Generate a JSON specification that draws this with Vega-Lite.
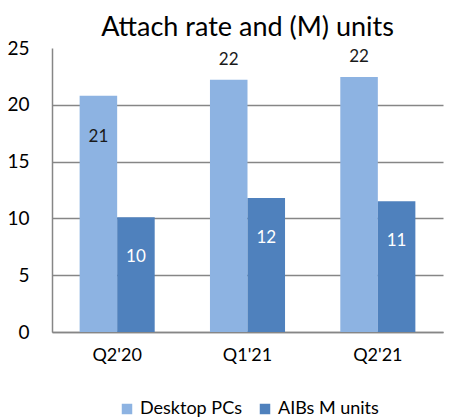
{
  "$schema": "https://vega.github.io/schema/vega-lite/v6.json",
  "width": 391,
  "height": 284,
  "autosize": {"type": "none"},
  "padding": {"left": 52, "top": 48, "right": 7, "bottom": 88},
  "background": "white",
  "title": {
    "text": "Attach rate and (M) units",
    "font": "Lato",
    "fontSize": 27,
    "fontWeight": "normal",
    "color": "#000000",
    "anchor": "middle",
    "offset": -3
  },
  "config": {
    "view": {"stroke": null},
    "font": "Lato"
  },
  "data": {
    "values": [
      {"quarter": "Q2'20", "series": "Desktop PCs", "value": 20.8, "label": "21"},
      {"quarter": "Q2'20", "series": "AIBs M units", "value": 10.1, "label": "10"},
      {"quarter": "Q1'21", "series": "Desktop PCs", "value": 22.2, "label": "22"},
      {"quarter": "Q1'21", "series": "AIBs M units", "value": 11.8, "label": "12"},
      {"quarter": "Q2'21", "series": "Desktop PCs", "value": 22.45, "label": "22"},
      {"quarter": "Q2'21", "series": "AIBs M units", "value": 11.5, "label": "11"}
    ]
  },
  "encoding": {
    "x": {
      "field": "quarter",
      "type": "nominal",
      "sort": ["Q2'20", "Q1'21", "Q2'21"],
      "scale": {"paddingInner": 0.424, "paddingOuter": 0.212},
      "axis": {
        "title": null,
        "labelAngle": 0,
        "labelFont": "Lato",
        "labelFontSize": 18,
        "labelColor": "#000000",
        "labelPadding": 14,
        "ticks": false,
        "domainColor": "#868686",
        "domainWidth": 1.5
      }
    },
    "xOffset": {
      "field": "series",
      "type": "nominal",
      "sort": ["Desktop PCs", "AIBs M units"],
      "scale": {"paddingInner": 0, "paddingOuter": 0}
    },
    "y": {
      "field": "value",
      "type": "quantitative",
      "scale": {"domain": [0, 25], "nice": false},
      "axis": {
        "title": null,
        "values": [0, 5, 10, 15, 20, 25],
        "labelFont": "Lato",
        "labelFontSize": 19,
        "labelColor": "#000000",
        "labelPadding": 23,
        "ticks": false,
        "domainColor": "#868686",
        "domainWidth": 1.5,
        "grid": true,
        "gridColor": {"condition": {"test": "datum.value === 25", "value": null}, "value": "#868686"},
        "gridWidth": 1.5,
        "gridDash": []
      }
    }
  },
  "layer": [
    {
      "mark": {"type": "bar"},
      "encoding": {
        "color": {
          "field": "series",
          "type": "nominal",
          "sort": ["Desktop PCs", "AIBs M units"],
          "scale": {"domain": ["Desktop PCs", "AIBs M units"], "range": ["#8DB3E2", "#4F81BD"]},
          "legend": {
            "title": null,
            "orient": "none",
            "legendX": 66,
            "legendY": 352,
            "direction": "horizontal",
            "symbolType": "square",
            "symbolSize": 110,
            "symbolStrokeWidth": 0,
            "labelFont": "Lato",
            "labelFontSize": 18,
            "labelColor": "#000000",
            "columnPadding": 14,
            "labelOffset": 4
          }
        }
      }
    },
    {
      "transform": [{"filter": "datum.series === 'AIBs M units'"}],
      "mark": {"type": "text", "color": "#FFFFFF", "fontSize": 17, "font": "Lato", "baseline": "middle", "dy": 40},
      "encoding": {"text": {"field": "label"}}
    },
    {
      "transform": [{"filter": "datum.series === 'Desktop PCs' && datum.quarter === \"Q2'20\""}],
      "mark": {"type": "text", "color": "#1A1A1A", "fontSize": 17, "font": "Lato", "baseline": "middle", "dy": 41},
      "encoding": {"text": {"field": "label"}}
    },
    {
      "transform": [{"filter": "datum.series === 'Desktop PCs' && datum.quarter !== \"Q2'20\""}],
      "mark": {"type": "text", "color": "#1A1A1A", "fontSize": 17, "font": "Lato", "baseline": "middle", "dy": -20},
      "encoding": {"text": {"field": "label"}}
    }
  ]
}
